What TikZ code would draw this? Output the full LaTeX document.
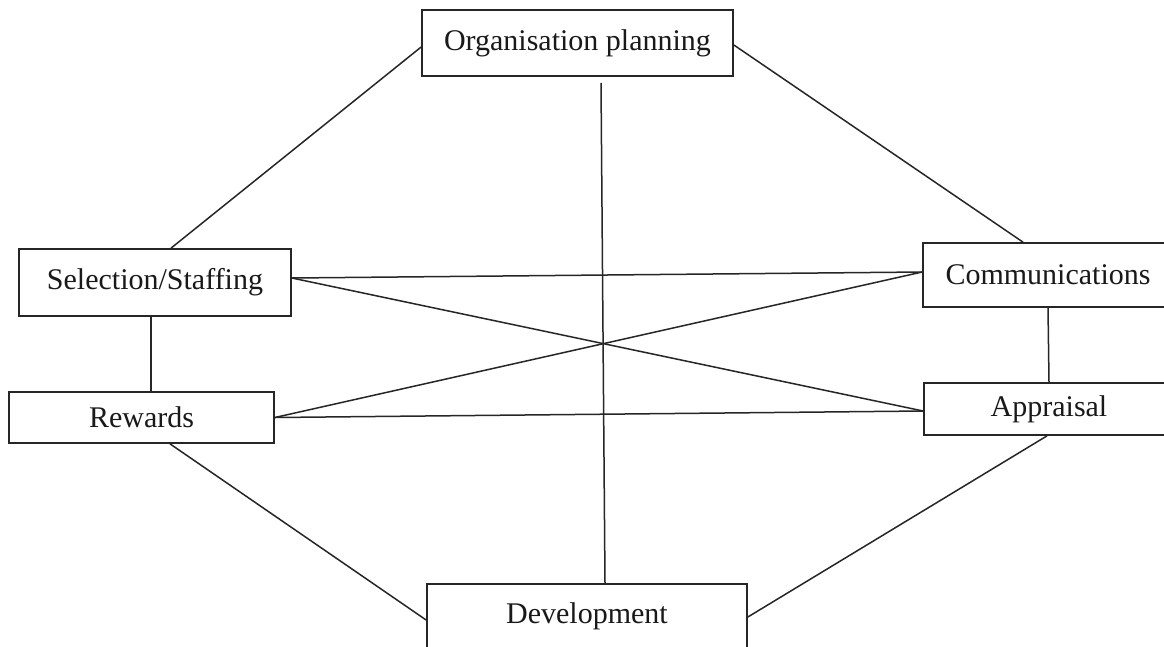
\documentclass[tikz,border=0pt]{standalone}
\usepackage{fontspec}
\setmainfont{Liberation Serif}
\begin{document}
\begin{tikzpicture}[x=1pt,y=-1pt,
  box/.style={draw=black!85, line width=1.7pt, rectangle, inner sep=0pt,
    font=\fontsize{30}{36}\selectfont, text=black!90},
  link/.style={draw=black!85, line width=1.5pt}]
\useasboundingbox[fill=white] (0,0) rectangle (1164,646);
\node[box, minimum width=311pt, minimum height=66pt] (org) at (577.5,43) {Organisation planning};
\node[box, minimum width=272pt, minimum height=67pt] (sel) at (155,282.5) {Selection/Staffing};
\node[box, minimum width=265pt, minimum height=51pt] (rew) at (141.5,417.5) {Rewards};
\node[box, minimum width=250pt, minimum height=64pt] (com) at (1048,275) {Communications};
\node[box, minimum width=250pt, minimum height=52pt] (app) at (1049,409) {Appraisal};
\node[box, minimum width=320pt, minimum height=64pt] (dev) at (587,616) {Development};
% outer ring
\draw[link] ([yshift=-4pt]org.west) -- ([xshift=16pt]sel.north);
\draw[link] ([yshift=-2pt]org.east) -- ([xshift=-25pt]com.north);
\draw[link] ([xshift=-4pt]sel.south) -- ([xshift=9.5pt]rew.north);
\draw[link] (com.south) -- (app.north);
\draw[link] ([xshift=28.5pt]rew.south) -- ([yshift=-4pt]dev.west);
\draw[link] ([xshift=-2pt]app.south) -- ([yshift=-1pt]dev.east);
% vertical
\draw[link] ([xshift=23.5pt,yshift=-6pt]org.south) -- ([xshift=18pt]dev.north);
% horizontals and diagonals
\draw[link] ([yshift=4.5pt]sel.east) -- ([yshift=3pt]com.west);
\draw[link] ([yshift=4.5pt]sel.east) -- ([yshift=-2pt]app.west);
\draw[link] (rew.east) -- ([yshift=3pt]com.west);
\draw[link] (rew.east) -- ([yshift=-2pt]app.west);
\end{tikzpicture}
\end{document}
